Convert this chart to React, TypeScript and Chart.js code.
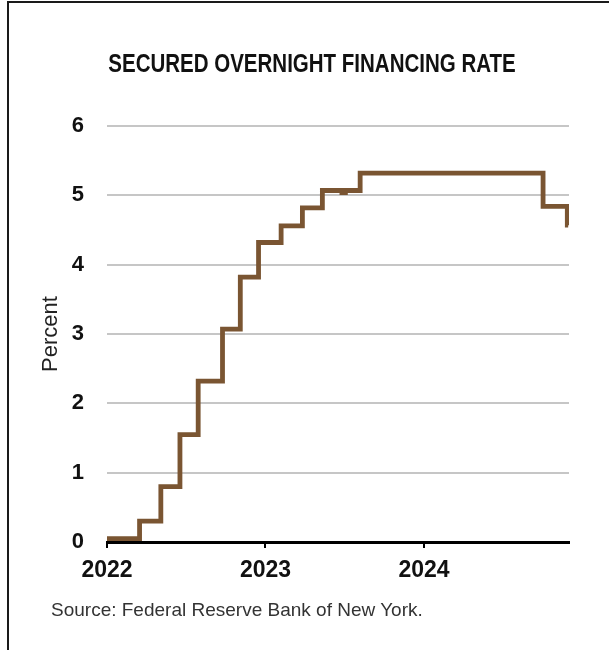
import React, { useEffect, useRef } from "react";
import { Chart, registerables } from "chart.js";

Chart.register(...registerables);

const chartTitle = "SECURED OVERNIGHT FINANCING RATE";
const sourceNote = "Source: Federal Reserve Bank of New York.";
const yAxisLabel = "Percent";

// Dates at which the rate stepped to a new level
const changeDates = [
  "2022-01-01",
  "2022-03-17",
  "2022-05-05",
  "2022-06-18",
  "2022-07-30",
  "2022-09-24",
  "2022-11-04",
  "2022-12-16",
  "2023-02-06",
  "2023-03-27",
  "2023-05-12",
  "2023-06-26",
  "2023-07-04",
  "2023-08-07",
  "2024-10-02",
  "2024-11-27",
  "2024-11-29",
];
const sofrValues = [
  0.05, 0.3, 0.8, 1.55, 2.32, 3.07, 3.82, 4.32, 4.56, 4.82, 5.07, 5.04, 5.07,
  5.32, 4.84, 4.57, 4.57,
];

const yearTicks = [2022, 2023, 2024];
const xMin = 2022;
const xMax = 2024.915;
const yTicks = [0, 1, 2, 3, 4, 5, 6];

function toYear(d: string): number {
  const dt = new Date(d + "T00:00:00Z");
  const y = dt.getUTCFullYear();
  const s = Date.UTC(y, 0, 1);
  const e = Date.UTC(y + 1, 0, 1);
  return y + (dt.getTime() - s) / (e - s);
}

export default function App() {
  const ref = useRef<HTMLCanvasElement | null>(null);

  useEffect(() => {
    if (!ref.current) return;
    const points = changeDates.map((d, i) => ({ x: toYear(d), y: sofrValues[i] }));
    const chart = new Chart(ref.current, {
      type: "line",
      data: {
        datasets: [
          {
            data: points,
            stepped: "before",
            borderColor: "#7a5532",
            borderWidth: 4.8,
            pointRadius: 0,
            borderJoinStyle: "miter",
            borderCapStyle: "butt",
            fill: false,
          },
        ],
      },
      options: {
        responsive: false,
        animation: false,
        parsing: false,
        layout: { padding: { left: 38, right: 40, top: 126, bottom: 68 } },
        plugins: {
          legend: { display: false },
          tooltip: { enabled: false },
          title: { display: false },
        },
        scales: {
          x: {
            type: "linear",
            min: xMin,
            max: xMax,
            afterBuildTicks: (s: any) => {
              s.ticks = yearTicks.map((v) => ({ value: v }));
            },
            afterFit: (s: any) => {
              s.height = 40;
            },
            grid: {
              drawOnChartArea: false,
              drawTicks: true,
              tickLength: 6,
              color: "#000",
              lineWidth: 2,
            },
            border: { display: true, color: "#000", width: 3 },
            ticks: {
              padding: 9,
              color: "#111",
              font: { family: "'Liberation Sans', Arial, sans-serif", size: 23, weight: "bold" },
              callback: (v: any) => String(v),
              maxRotation: 0,
              autoSkip: false,
            },
          },
          y: {
            type: "linear",
            min: 0,
            max: 6,
            afterBuildTicks: (s: any) => {
              s.ticks = yTicks.map((v) => ({ value: v }));
            },
            afterFit: (s: any) => {
              s.width = 69;
            },
            grid: {
              drawTicks: false,
              color: (c: any) => (c.tick && c.tick.value === 0 ? "rgba(0,0,0,0)" : "#c6c6c6"),
              lineWidth: 2,
            },
            border: { display: false },
            ticks: {
              padding: 23,
              color: "#111",
              font: { family: "'Liberation Sans', Arial, sans-serif", size: 22, weight: "bold" },
              callback: (v: any) => String(v),
            },
            title: {
              display: true,
              text: yAxisLabel,
              color: "#222",
              padding: 0,
              font: { family: "'Liberation Sans', Arial, sans-serif", size: 22, weight: "normal" },
            },
          },
        },
      },
    });
    return () => chart.destroy();
  }, []);

  return (
    <div
      style={{
        position: "fixed",
        left: 0,
        top: 0,
        width: 609,
        height: 650,
        overflow: "hidden",
        background: "#fff",
      }}
    >
      <div
        style={{
          position: "absolute",
          left: 7,
          top: 1,
          width: 700,
          height: 800,
          border: "2px solid #1a1a1a",
          boxSizing: "border-box",
        }}
      />
      <canvas
        ref={ref}
        width={609}
        height={650}
        style={{ position: "absolute", left: 0, top: 0, width: 609, height: 650, display: "block" }}
      />
      <div
        style={{
          position: "absolute",
          top: 51,
          left: 0,
          width: 624,
          textAlign: "center",
          fontFamily: "'Liberation Sans', Arial, sans-serif",
          fontWeight: "bold",
          fontSize: 25,
          lineHeight: "25px",
          color: "#111",
          whiteSpace: "nowrap",
          transform: "scaleX(0.82)",
          transformOrigin: "312px 50%",
        }}
      >
        {chartTitle}
      </div>
      <div
        style={{
          position: "absolute",
          top: 600,
          left: 51,
          fontFamily: "'Liberation Sans', Arial, sans-serif",
          fontSize: 19,
          lineHeight: "19px",
          color: "#333",
          whiteSpace: "nowrap",
        }}
      >
        {sourceNote}
      </div>
    </div>
  );
}
